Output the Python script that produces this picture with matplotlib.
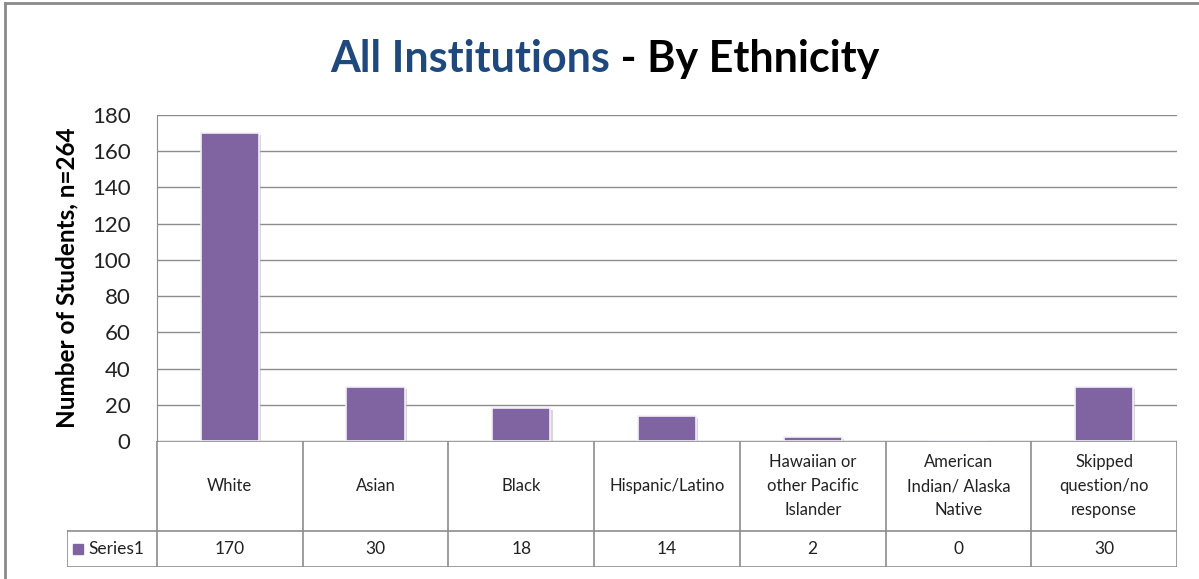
import matplotlib.pyplot as plt
import matplotlib.patheffects as pe
from matplotlib.lines import Line2D
import numpy as np

plt.rcParams['font.family'] = ['Lato', 'DejaVu Sans']

# data
categories = ["White", "Asian", "Black", "Hispanic/Latino",
              "Hawaiian or\nother Pacific\nIslander",
              "American\nIndian/ Alaska\nNative",
              "Skipped\nquestion/no\nresponse"]
counts = [170, 30, 18, 14, 2, 0, 30]
series_name = "Series1"
yticks = np.arange(0, 181, 20)

W, H = 1199, 579
bar_col = '#8064A2'
grid_col = '#8c8c8c'

fig = plt.figure(figsize=(W / 100, H / 100), dpi=100)


def box(x0, y0, x1, y1):
    # pixel box -> figure coords
    return [x0 / W, 1 - y1 / H, (x1 - x0) / W, (y1 - y0) / H]


# outer chart border (top and left visible)
fig.add_artist(Line2D([5 / W, 1], [1 - 3 / H, 1 - 3 / H], color='#8a8a8a', lw=2))
fig.add_artist(Line2D([5 / W, 5 / W], [0, 1 - 3 / H], color='#8a8a8a', lw=2))

#%% bar plot
ax = fig.add_axes(box(157, 115, 1177, 441))
x = np.arange(len(categories))
bars = ax.bar(x, counts, width=0.4, color=bar_col, edgecolor='#f2eff7', linewidth=1.2, zorder=3)
for b in bars:
    b.set_path_effects([pe.SimplePatchShadow(offset=(1.5, -1.5), shadow_rgbFace='#b0b0b0', alpha=0.5),
                        pe.Normal()])
ax.set_xlim(-0.5, len(categories) - 0.5)
ax.set_ylim(0, 180)
ax.set_yticks(yticks)
ax.tick_params(axis='y', labelsize=16, length=0, pad=19, colors='#222222')
ax.set_xticks([])
ax.yaxis.grid(True, color=grid_col, lw=1)
ax.set_axisbelow(True)
for s in ['top', 'right', 'bottom']:
    ax.spines[s].set_visible(False)
ax.spines['left'].set_color(grid_col)
ax.set_ylabel("Number of Students, n=264", fontsize=17.5, fontweight='bold', labelpad=10)

#%% data table below
step = 1020 / len(categories)
left = -0.5 - 90 / step
tab = fig.add_axes(box(67, 441, 1177, 567))
tab.set_xlim(left, len(categories) - 0.5)
tab.set_ylim(126, 0)
tab.axis('off')
lc = dict(color=grid_col, lw=1.2)
tab.plot([-0.5, len(categories) - 0.5], [0, 0], **lc)
tab.plot([left, len(categories) - 0.5], [90, 90], **lc)
tab.plot([left, len(categories) - 0.5], [126, 126], **lc)
for k in range(len(categories) + 1):
    tab.plot([k - 0.5, k - 0.5], [0, 126], **lc)
tab.plot([left, left], [90, 126], **lc)
for i, (c, v) in enumerate(zip(categories, counts)):
    tab.text(i, 45, c, ha='center', va='center', fontsize=12, linespacing=1.65, color='#222222')
    tab.text(i, 108, str(v), ha='center', va='center', fontsize=12.5, color='#222222')
tab.plot([left + 11 / step], [108], marker='s', ms=7, color=bar_col, clip_on=False)
tab.text(left + 21 / step, 108, series_name, ha='left', va='center', fontsize=12.5, color='#222222')

#%% two-colour title
r = fig.canvas.get_renderer()
t1 = fig.text(0, 1 - 72 / H, "All Institutions", fontsize=31, fontweight='bold', color='#1f497d')
t2 = fig.text(0, 1 - 72 / H, " - By Ethnicity", fontsize=31, fontweight='bold', color='black')
w1 = t1.get_window_extent(r).width
w2 = t2.get_window_extent(r).width
x0 = 605 - (w1 + w2) / 2
t1.set_x(x0 / W)
t2.set_x((x0 + w1) / W)

fig.savefig('out.png', dpi=100)
